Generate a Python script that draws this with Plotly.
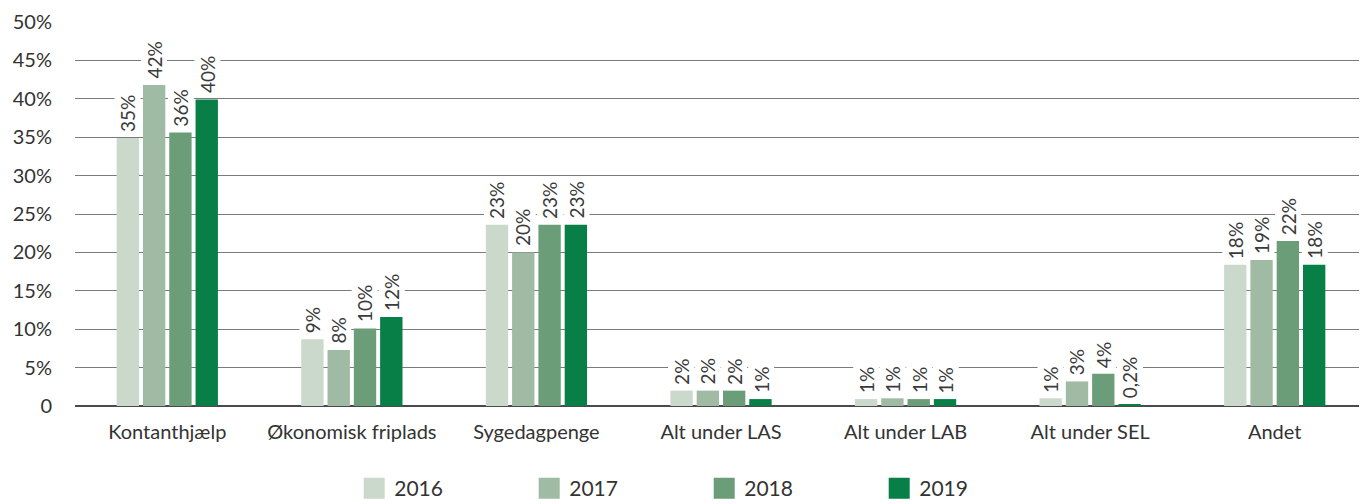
import plotly.graph_objects as go

categories = ["Kontanthjælp", "Økonomisk friplads", "Sygedagpenge", "Alt under LAS",
              "Alt under LAB", "Alt under SEL", "Andet"]
years = ["2016", "2017", "2018", "2019"]
values_2016 = [34.9, 8.7, 23.6, 2.0, 0.9, 1.0, 18.4]
values_2017 = [41.8, 7.3, 20.0, 2.0, 1.0, 3.2, 19.0]
values_2018 = [35.6, 10.1, 23.6, 2.0, 0.9, 4.2, 21.5]
values_2019 = [39.9, 11.6, 23.6, 0.9, 0.9, 0.2, 18.4]
labels_2016 = ["35%", "9%", "23%", "2%", "1%", "1%", "18%"]
labels_2017 = ["42%", "8%", "20%", "2%", "1%", "3%", "19%"]
labels_2018 = ["36%", "10%", "23%", "2%", "1%", "4%", "22%"]
labels_2019 = ["40%", "12%", "23%", "1%", "1%", "0,2%", "18%"]
colors = ["#cbd9cc", "#a0bba3", "#6b9e78", "#077f47"]
tick_vals = [0, 5, 10, 15, 20, 25, 30, 35, 40, 45, 50]
tick_text = ["0", "5%", "10%", "15%", "20%", "25%", "30%", "35%", "40%", "45%", "50%"]

series = [values_2016, values_2017, values_2018, values_2019]
labels = [labels_2016, labels_2017, labels_2018, labels_2019]

FONT = "Lato, 'Open Sans', sans-serif"
fig = go.Figure()
for yr, vals, col in zip(years, series, colors):
    fig.add_trace(go.Bar(name=yr, x=categories, y=vals, marker_color=col,
                         marker_line_width=0, showlegend=False, legendgroup=yr))
# legend swatches (larger squares than the default bar swatch)
for yr, col in zip(years, colors):
    fig.add_trace(go.Scatter(name=yr, x=[None], y=[None], mode="markers",
                             legendgroup=yr,
                             marker=dict(symbol="square", size=16, color=col,
                                         line=dict(color=col, width=5))))

step = 26.5
annotations = []
for i, (vals, labs) in enumerate(zip(series, labels)):
    for c, v, t in zip(categories, vals, labs):
        annotations.append(dict(x=c, y=v, xref="x", yref="y", text=t, showarrow=False,
                                textangle=-90, xanchor="center", yanchor="bottom",
                                xshift=(i - 1.5) * step, yshift=4, bgcolor="white",
                                borderpad=1,
                                font=dict(family=FONT, size=19, color="#3a3a3a")))

fig.update_layout(
    width=1359, height=496,
    margin=dict(l=67, r=0, t=14, b=98, autoexpand=False),
    paper_bgcolor="white", plot_bgcolor="white",
    barmode="group", bargap=0.43, bargroupgap=0.15,
    font=dict(family=FONT, size=18, color="#333333"),
    annotations=annotations,
    showlegend=True,
    legend=dict(orientation="h", x=0.487, xanchor="center", y=-0.215, yanchor="middle",
                font=dict(family=FONT, size=21, color="#333333"),
                entrywidth=130, itemsizing="trace", traceorder="normal"),
    xaxis=dict(showgrid=False, showline=False, ticks="", tickfont=dict(size=20),
               ticklabelstandoff=12, automargin=False, fixedrange=True),
    yaxis=dict(range=[0, 50], tickvals=tick_vals, ticktext=tick_text,
               showgrid=True, gridcolor="#7a7a7a", gridwidth=1.3,
               zeroline=True, zerolinecolor="#4a4a4a", zerolinewidth=1.6,
               tickfont=dict(size=20, color="#333333"), ticks="",
               ticklabelstandoff=22, automargin=False, fixedrange=True),
)
fig.write_html("out.html")
